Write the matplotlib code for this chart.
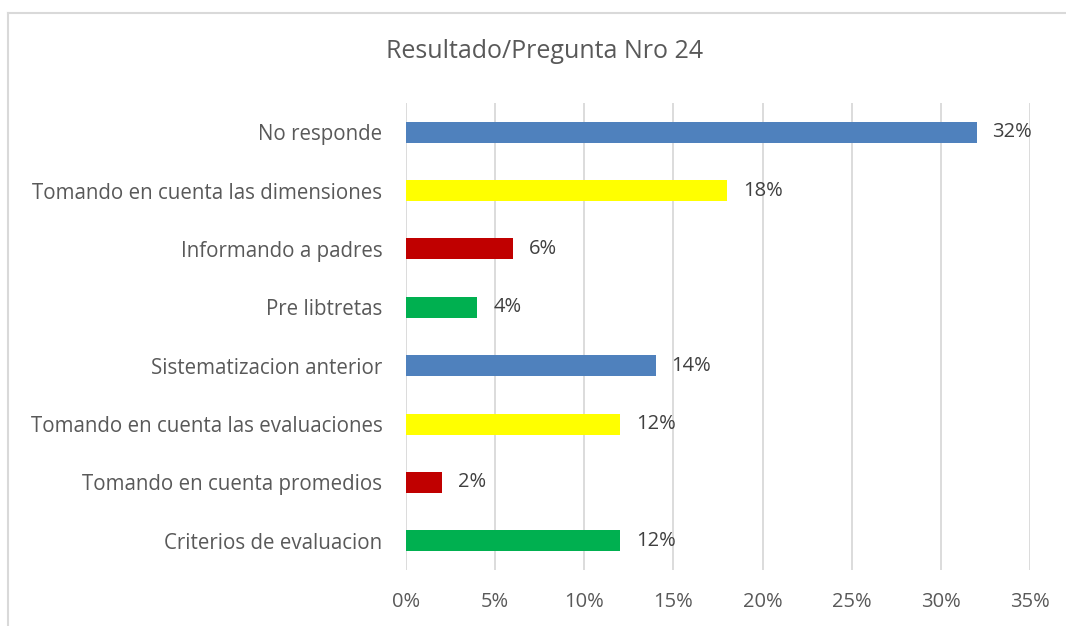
import matplotlib
matplotlib.use("Agg")
import matplotlib.pyplot as plt
from matplotlib.lines import Line2D

categories = ["No responde", "Tomando en cuenta las dimensiones", "Informando a padres",
              "Pre libtretas", "Sistematizacion anterior", "Tomando en cuenta las evaluaciones",
              "Tomando en cuenta promedios", "Criterios de evaluacion"]
values = [32, 18, 6, 4, 14, 12, 2, 12]
colors = ["#4F81BD", "#FFFF00", "#C00000", "#00B050", "#4F81BD", "#FFFF00", "#C00000", "#00B050"]
xticks = [0, 5, 10, 15, 20, 25, 30, 35]
title = "Resultado/Pregunta Nro 24"

plt.rcParams['font.family'] = ['Open Sans', 'DejaVu Sans']
W, H = 1066, 626
fig = plt.figure(figsize=(W/100, H/100), dpi=100)
ax = fig.add_axes([406/W, 1-570/H, (1030-406)/W, (570-103)/H])

ypos = list(range(len(categories)))
ax.barh(ypos, values, height=0.36, color=colors, zorder=3)
ax.set_ylim(len(categories)-0.5, -0.5)
ax.set_xlim(0, 35)
ax.set_xticks(xticks)
ax.set_xticklabels([f"{t}%" for t in xticks], color="#595959", fontsize=14.5)
ax.set_yticks(ypos)
ax.set_yticklabels(categories, color="#595959", fontsize=14.8)
ax.tick_params(length=0, pad=16, axis='x')
ax.tick_params(length=0, pad=17, axis='y')
ax.grid(axis='x', color="#D9D9D9", linewidth=1.3, zorder=0)
for s in ax.spines.values():
    s.set_visible(False)
for y, v in zip(ypos, values):
    ax.text(v + 0.9, y, f"{v}%", va='center', ha='left', color="#404040", fontsize=14.5)

fig.text(545/W, 1-52/H, title, ha='center', va='center', color="#595959", fontsize=18)

fig.add_artist(Line2D([7.5/W, 7.5/W], [0, 1-13/H], color="#D9D9D9", lw=1.5, transform=fig.transFigure))
fig.add_artist(Line2D([7.5/W, 1], [1-13/H, 1-13/H], color="#D9D9D9", lw=1.5, transform=fig.transFigure))

fig.savefig("out.png", dpi=100)
